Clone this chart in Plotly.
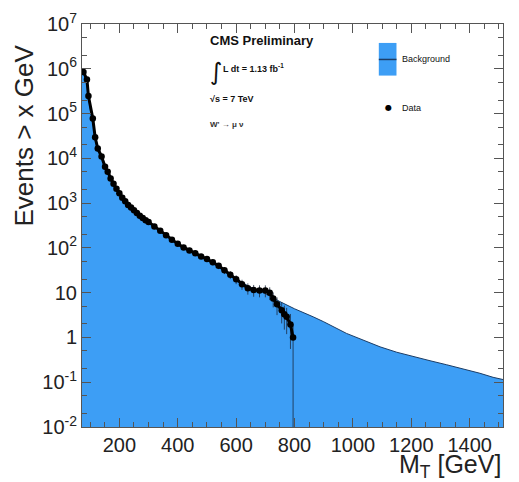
import plotly.graph_objects as go

# ---- data ----
bg_mt = [72, 80, 90, 100, 110, 120, 130, 140, 150, 175, 200, 225, 250, 275, 300,
         350, 400, 450, 500, 550, 600, 650, 700, 750, 800, 864, 900, 978, 1050,
         1093, 1150, 1207, 1264, 1321, 1378, 1435, 1480, 1514]
bg_log = [6.0, 5.9, 5.6, 5.1, 4.75, 4.4, 4.15, 4.0, 3.83, 3.5, 3.22, 3.0, 2.83, 2.70, 2.58,
          2.33, 2.09, 1.91, 1.75, 1.55, 1.30, 1.12, 0.98, 0.80, 0.64, 0.46, 0.35, 0.09, -0.10,
          -0.21, -0.33, -0.43, -0.52, -0.61, -0.70, -0.80, -0.89, -0.94]

data_mt = [77, 89, 94, 109, 117, 126, 139, 151, 160, 170, 180, 190, 200, 210, 220, 230,
           240, 250, 260, 270, 280, 290, 300, 320, 340, 360, 380, 400, 420, 440, 460,
           480, 500, 520, 540, 560, 580, 600, 620, 640, 660, 680, 700, 715, 727, 740,
           756, 765, 773, 786, 795]
data_log = [5.93, 5.76, 5.39, 4.89, 4.47, 4.22, 4.04, 3.81, 3.70, 3.55, 3.43, 3.32, 3.22,
            3.12, 3.04, 2.96, 2.90, 2.84, 2.78, 2.72, 2.67, 2.62, 2.58, 2.48, 2.38, 2.28,
            2.18, 2.09, 2.01, 1.94, 1.88, 1.81, 1.75, 1.68, 1.60, 1.50, 1.40, 1.30, 1.19,
            1.10, 1.06, 1.05, 1.05, 1.00, 0.87, 0.74, 0.61, 0.52, 0.46, 0.29, 0.0]

y_tickvals = [1e-2, 1e-1, 1, 10, 1e2, 1e3, 1e4, 1e5, 1e6, 1e7]
y_ticktext = ["10<sup>-2</sup>", "10<sup>-1</sup>", "1", "10", "10<sup>2</sup>",
              "10<sup>3</sup>", "10<sup>4</sup>", "10<sup>5</sup>", "10<sup>6</sup>",
              "10<sup>7</sup>"]
x_tickvals = [200, 400, 600, 800, 1000, 1200, 1400]

bg_y = [10 ** v for v in bg_log]
data_y = [10 ** v for v in data_log]
err_up = [v ** 0.5 for v in data_y]
err_dn = [min(v ** 0.5, v) for v in data_y]

BLUE = "#3d9ef5"
FONT = "Liberation Sans, Arial, sans-serif"

fig = go.Figure()
fig.add_trace(go.Scatter(
    x=bg_mt, y=bg_y, mode="lines", fill="tozeroy",
    fillcolor=BLUE, line=dict(color="#1c3d66", width=1),
    showlegend=False, hoverinfo="skip"))
fig.add_trace(go.Scatter(
    x=data_mt, y=data_y, mode="lines+markers",
    line=dict(color="black", width=3),
    marker=dict(color="black", size=6.5),
    error_y=dict(type="data", symmetric=False, array=err_up, arrayminus=err_dn,
                 color="#1a2a40", thickness=0.8, width=0),
    showlegend=False))

axis_common = dict(
    showline=True, linecolor="#555", linewidth=1, mirror="ticks",
    ticks="inside", ticklen=9, tickcolor="#555", showgrid=False, zeroline=False,
    automargin=False,
    tickfont=dict(family=FONT, size=20, color="#222"),
)
fig.update_xaxes(range=[72, 1514], tickvals=x_tickvals,
                 minor=dict(dtick=50, tick0=0, ticks="inside", ticklen=5, tickcolor="#555"),
                 **axis_common)
fig.update_yaxes(type="log", range=[-2, 7], tickvals=y_tickvals, ticktext=y_ticktext,
                 minor=dict(ticks="inside", ticklen=5, tickcolor="#555", showgrid=False),
                 **axis_common)

ann_font = dict(family=FONT, size=9, color="#111")
annotations = [
    dict(x=-0.137, y=0.724, xref="paper", yref="paper", text="Events > x GeV",
         textangle=-90, showarrow=False, xanchor="center", yanchor="middle",
         font=dict(family=FONT, size=26, color="#222")),
    dict(x=1.0, y=-0.097, xref="paper", yref="paper", text="M<sub>T</sub> [GeV]",
         xanchor="right", yanchor="middle", showarrow=False,
         font=dict(family=FONT, size=25, color="#222")),
    dict(x=0.3, y=0.958, xref="paper", yref="paper", text="<b>CMS Preliminary</b>",
         xanchor="left", yanchor="middle", showarrow=False,
         font=dict(family=FONT, size=13, color="#111")),
    dict(x=0.3, y=0.88, xref="paper", yref="paper", text="∫",
         xanchor="left", yanchor="middle", showarrow=False,
         font=dict(family="DejaVu Sans", size=24, color="#111")),
    dict(x=0.33, y=0.89, xref="paper", yref="paper", text="<b>L dt = 1.13 fb<sup>-1</sup></b>",
         xanchor="left", yanchor="middle", showarrow=False, font=ann_font),
    dict(x=0.3, y=0.815, xref="paper", yref="paper", text="<b>√s = 7 TeV</b>",
         xanchor="left", yanchor="middle", showarrow=False, font=ann_font),
    dict(x=0.3, y=0.75, xref="paper", yref="paper", text="<b>W' → μ ν</b>",
         xanchor="left", yanchor="middle", showarrow=False,
         font=dict(family=FONT, size=8, color="#333")),
    dict(x=0.755, y=0.912, xref="paper", yref="paper", text="Background",
         xanchor="left", yanchor="middle", showarrow=False,
         font=dict(family=FONT, size=9, color="#111")),
    dict(x=0.755, y=0.792, xref="paper", yref="paper", text="Data",
         xanchor="left", yanchor="middle", showarrow=False,
         font=dict(family=FONT, size=9, color="#111")),
    dict(x=0.727, y=0.793, xref="paper", yref="paper", text="●",
         xanchor="center", yanchor="middle", showarrow=False,
         font=dict(family="DejaVu Sans", size=8, color="black")),
]
shapes = [
    dict(type="rect", xref="paper", yref="paper", x0=0.705, x1=0.747, y0=0.872, y1=0.953,
         fillcolor=BLUE, line=dict(width=0)),
    dict(type="line", xref="paper", yref="paper", x0=0.705, x1=0.747, y0=0.912, y1=0.912,
         line=dict(color="#1c3d66", width=1.5)),
]

fig.update_layout(
    width=511, height=474,
    margin=dict(l=74, r=16, t=16, b=55),
    paper_bgcolor="white", plot_bgcolor="white",
    annotations=annotations, shapes=shapes,
    showlegend=False,
)
fig.write_html("out.html")
